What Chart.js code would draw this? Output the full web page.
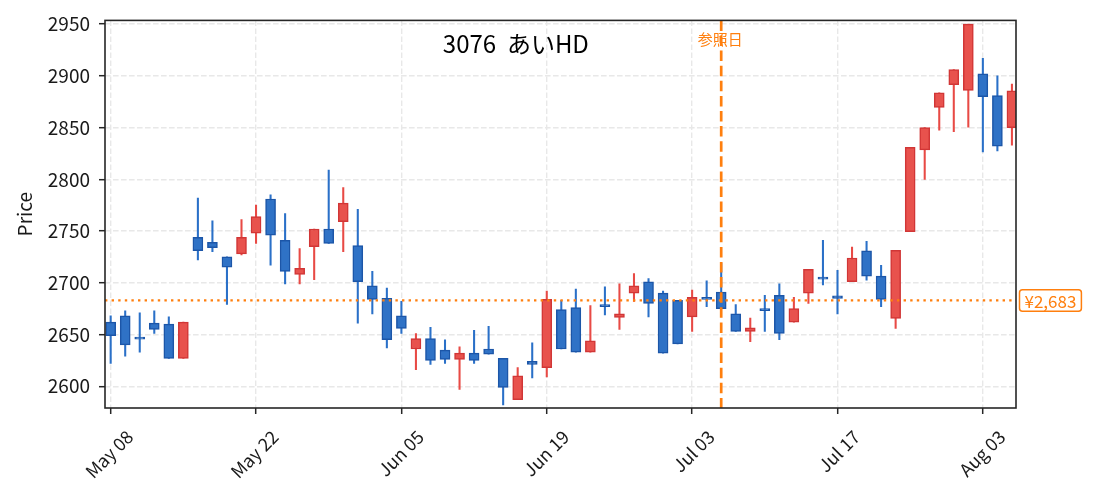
<!DOCTYPE html>
<html>
<head>
<meta charset="utf-8">
<script src="https://cdn.jsdelivr.net/npm/chart.js@4.4.1/dist/chart.umd.min.js"></script>
<style>
  html, body { margin: 0; padding: 0; background: #fff; }
  canvas { display: block; }
</style>
</head>
<body>
<canvas id="chart" width="1095" height="497"></canvas>
<script>
// x positions are trading-day indexes; only tick dates are known
const tickIdx = [0, 10, 20, 30, 40, 50, 60];
const tickLabels = ['May 08', 'May 22', 'Jun 05', 'Jun 19', 'Jul 03', 'Jul 17', 'Aug 03'];
const priceTicks = [2600, 2650, 2700, 2750, 2800, 2850, 2900, 2950];

const opens  = [2662, 2668, 2646.5, 2661, 2660, 2627, 2744, 2739, 2725, 2728,
                2748, 2781, 2741, 2708, 2735, 2752, 2759, 2736, 2697, 2685,
                2668, 2636, 2646, 2635, 2626, 2632, 2636, 2627, 2587, 2624,
                2618, 2674, 2676, 2633, 2679, 2666.5, 2690, 2701, 2690, 2683,
                2667, 2686, 2691, 2670, 2653, 2675, 2688, 2662, 2690, 2705,
                2687.5, 2701, 2731, 2706.5, 2665.5, 2749.5, 2828.5, 2869.5, 2891.5, 2886,
                2902, 2881, 2850];
const highs  = [2668, 2673, 2671, 2673, 2667, 2662, 2782, 2760, 2725, 2761,
                2775, 2785, 2767, 2733, 2752, 2809, 2792, 2771, 2711, 2695,
                2682, 2651, 2657, 2645, 2638, 2654, 2658, 2627, 2618, 2642,
                2692, 2683, 2694, 2678, 2696, 2699, 2709, 2704, 2692, 2683,
                2693, 2702, 2719, 2679, 2666, 2688, 2699, 2686, 2713, 2741,
                2712, 2734.5, 2740, 2717, 2731.5, 2831, 2850, 2883.5, 2906, 2950,
                2917, 2900, 2892];
const lows   = [2622, 2629, 2633, 2651, 2627, 2627, 2722, 2730, 2679, 2727,
                2738, 2717, 2699, 2699, 2703, 2738, 2730, 2661, 2670, 2637,
                2651, 2616, 2621, 2622, 2597, 2622, 2631, 2582, 2587, 2608,
                2609, 2636, 2633, 2633, 2669, 2655, 2682, 2667, 2632, 2641,
                2653, 2677, 2675, 2653, 2643, 2653, 2645, 2662, 2680, 2698,
                2670, 2701, 2702.5, 2677, 2656, 2749.5, 2800, 2847.5, 2846, 2850.5,
                2826.5, 2827.5, 2833];
const closes = [2649, 2640, 2645.5, 2655, 2627, 2662, 2731, 2734, 2715, 2744,
                2764, 2746, 2711, 2714, 2752, 2738, 2777, 2701, 2684, 2645,
                2656, 2646, 2625, 2626, 2632, 2625, 2631, 2599, 2610, 2621,
                2684, 2636, 2633, 2644, 2677, 2670, 2697, 2680, 2632, 2641,
                2686, 2684, 2675, 2653, 2656.5, 2673, 2651, 2675, 2713, 2703.5,
                2685, 2724, 2706.5, 2684, 2731.5, 2831, 2850, 2883.5, 2906, 2950,
                2880, 2832, 2885.5];

const refPrice = 2683;
const refPriceLabel = '¥2,683';
const refIndex = 42;
const refDayLabel = '参照日';
const titleText = '3076  あいHD';

const FONT = '"Noto Sans CJK JP", "Noto Sans", sans-serif';
const ORANGE = '#ff7f0e';
const up = closes.map((c, i) => c >= opens[i]);

const bodies = opens.map((o, i) => ({ x: i, y: [Math.min(o, closes[i]), Math.max(o, closes[i])] }));
const wicks = highs.map((h, i) => ({ x: i, y: [lows[i], h] }));

const overlay = {
  id: 'overlay',
  afterDatasetsDraw(chart) {
    const { ctx, chartArea: a, scales: { x, y } } = chart;
    ctx.save();
    ctx.beginPath();
    ctx.rect(a.left, a.top, a.right - a.left, a.bottom - a.top);
    ctx.clip();
    ctx.strokeStyle = ORANGE;
    // reference price, dotted
    const py = y.getPixelForValue(refPrice);
    ctx.lineWidth = 2.4;
    ctx.setLineDash([2.4, 4.2]);
    ctx.beginPath(); ctx.moveTo(a.left, py); ctx.lineTo(a.right, py); ctx.stroke();
    // reference day, dashed
    const px = x.getPixelForValue(refIndex);
    ctx.lineWidth = 2.7;
    ctx.setLineDash([10.5, 4.6]);
    ctx.beginPath(); ctx.moveTo(px, a.top); ctx.lineTo(px, a.bottom); ctx.stroke();
    ctx.restore();
  },
  afterDraw(chart) {
    const { ctx, chartArea: a, scales: { x, y } } = chart;
    ctx.save();
    // frame
    ctx.strokeStyle = '#262626';
    ctx.lineWidth = 1.6;
    ctx.strokeRect(a.left, a.top, a.right - a.left, a.bottom - a.top);

    // title
    ctx.fillStyle = '#000';
    ctx.font = '24px ' + FONT;
    ctx.textAlign = 'center';
    ctx.textBaseline = 'alphabetic';
    ctx.fillText(titleText, a.left + (a.right - a.left) * 0.451, 53);

    // reference day label
    const px = x.getPixelForValue(refIndex);
    ctx.fillStyle = ORANGE;
    ctx.font = '15px ' + FONT;
    ctx.textBaseline = 'middle';
    ctx.fillText(refDayLabel, px - 1, 39);

    // reference price badge
    const py = y.getPixelForValue(refPrice);
    ctx.font = '17px ' + FONT;
    const w = ctx.measureText(refPriceLabel).width + 10;
    const bx = a.right + 3.5, bh = 21.5;
    ctx.beginPath();
    ctx.roundRect(bx, py - bh / 2, w, bh, 3);
    ctx.fillStyle = '#fff';
    ctx.fill();
    ctx.strokeStyle = ORANGE;
    ctx.lineWidth = 1.5;
    ctx.stroke();
    ctx.fillStyle = ORANGE;
    ctx.textAlign = 'left';
    ctx.fillText(refPriceLabel, bx + 5, py + 1);
    ctx.restore();
  }
};

new Chart(document.getElementById('chart'), {
  type: 'bar',
  data: {
    datasets: [
      {
        data: bodies,
        grouped: false,
        barThickness: 10,
        minBarLength: 2,
        backgroundColor: up.map(u => u ? '#e8524d' : '#2f72c6'),
        borderColor: up.map(u => u ? '#d13636' : '#1c56a8'),
        borderWidth: 1.5,
        borderSkipped: false
      },
      {
        data: wicks,
        grouped: false,
        barThickness: 1.4,
        backgroundColor: up.map(u => u ? '#e84a45' : '#2a70c8'),
        borderWidth: 0
      }
    ]
  },
  options: {
    responsive: false,
    animation: false,
    devicePixelRatio: 1,
    layout: { padding: { left: 0, right: 79, top: 19, bottom: 0 } },
    plugins: { legend: { display: false }, tooltip: { enabled: false } },
    scales: {
      x: {
        type: 'linear',
        min: -0.39,
        max: 62.28,
        offset: false,
        afterBuildTicks: s => { s.ticks = tickIdx.map(v => ({ value: v })); },
        afterFit: s => { s.height = 89; },
        grid: {
          offset: false,
          color: '#e8e8e8',
          lineWidth: 1.4,
          tickColor: '#262626',
          tickWidth: 1.5,
          tickLength: 6
        },
        border: { display: false, dash: [5.6, 2.4] },
        ticks: {
          autoSkip: false,
          minRotation: 45,
          maxRotation: 45,
          padding: 12,
          labelOffset: 19,
          color: '#1a1a1a',
          font: { family: FONT, size: 18 },
          callback: v => {
            const k = tickIdx.indexOf(v);
            return k >= 0 ? tickLabels[k] : '';
          }
        }
      },
      y: {
        min: 2579,
        max: 2953.6,
        afterBuildTicks: s => { s.ticks = priceTicks.map(v => ({ value: v })); },
        afterFit: s => { s.width = 105; },
        grid: {
          color: '#e8e8e8',
          lineWidth: 1.4,
          tickColor: '#262626',
          tickWidth: 1.5,
          tickLength: 6
        },
        border: { display: false, dash: [5.6, 2.4] },
        ticks: {
          padding: 9,
          color: '#1a1a1a',
          font: { family: FONT, size: 19 },
          callback: v => String(v)
        },
        title: {
          display: true,
          text: 'Price',
          color: '#1a1a1a',
          font: { family: FONT, size: 19 },
          padding: { top: 13.6, bottom: 0 }
        }
      }
    }
  },
  plugins: [overlay]
});
</script>
</body>
</html>
